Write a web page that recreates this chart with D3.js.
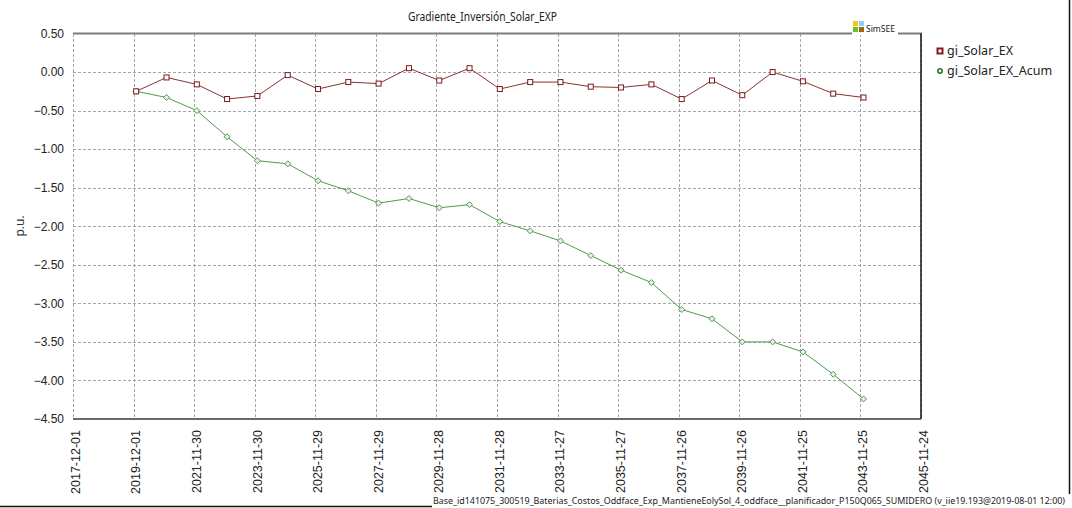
<!DOCTYPE html>
<html>
<head>
<meta charset="utf-8">
<script src="https://cdn.jsdelivr.net/npm/d3@7"></script>
<style>
  body { margin: 0; background: #fff; }
  svg { display: block; font-family: "Noto Sans", sans-serif; }
  .grid line { stroke: #a6a6a6; stroke-dasharray: 3,2; shape-rendering: crispEdges; }
  .axis text { fill: #222; }
</style>
</head>
<body>
<div id="chart"></div>
<script>
// data
const dates = [
  '2020-01-01', '2021-01-01', '2022-01-01', '2023-01-01', '2024-01-01',
  '2025-01-01', '2026-01-01', '2027-01-01', '2028-01-01', '2029-01-01',
  '2030-01-01', '2031-01-01', '2032-01-01', '2033-01-01', '2034-01-01',
  '2035-01-01', '2036-01-01', '2037-01-01', '2038-01-01', '2039-01-01',
  '2040-01-01', '2041-01-01', '2042-01-01', '2043-01-01', '2044-01-01'
]
const giSolarEx = [
  -0.25, -0.07, -0.16, -0.35, -0.31, -0.04, -0.22, -0.13, -0.15, 0.05,
  -0.11, 0.05, -0.22, -0.13, -0.13, -0.19, -0.20, -0.16, -0.35, -0.11,
  -0.30, 0.00, -0.12, -0.28, -0.33
]
const giSolarExAcum = [
  -0.25, -0.33, -0.50, -0.84, -1.15, -1.19, -1.41, -1.54, -1.70, -1.64,
  -1.76, -1.72, -1.94, -2.06, -2.19, -2.38, -2.57, -2.73, -3.08, -3.20,
  -3.50, -3.50, -3.63, -3.92, -4.24
]
const xTickLabels = [
  '2017-12-01', '2019-12-01', '2021-11-30', '2023-11-30', '2025-11-29',
  '2027-11-29', '2029-11-28', '2031-11-28', '2033-11-27', '2035-11-27',
  '2037-11-26', '2039-11-26', '2041-11-25', '2043-11-25', '2045-11-24'
]
const yTicks = [0.5, 0, -0.5, -1, -1.5, -2, -2.5, -3, -3.5, -4, -4.5]
const seriesNames = ['gi_Solar_EX', 'gi_Solar_EX_Acum']
const title = 'Gradiente_Inversión_Solar_EXP'
const caption = 'Base_id141075_300519_Baterias_Costos_Oddface_Exp_MantieneEolySol_4_oddface__planificador_P150Q065_SUMIDERO (v_iie19.193@2019-08-01 12:00)'

const width = 1072
const height = 508
const pLeft = 73, pRight = 921, pTop = 33.5, pBottom = 419

const parse = d3.timeParse('%Y-%m-%d')
const fmt = d3.timeFormat('%Y-%m-%d')
const tickDates = xTickLabels.map(parse)

const svg = d3.select('#chart')
  .append('svg')
  .attr('width', width)
  .attr('height', height)

const x = d3.scaleTime()
  .domain([tickDates[0], tickDates[tickDates.length - 1]])
  .range([pLeft, pRight])
const y = d3.scaleLinear()
  .domain([-4.5, 0.5])
  .range([pBottom, pTop])

// grid
const grid = svg.append('g').attr('class', 'grid')
grid.selectAll('.vg')
  .data(tickDates)
  .enter()
    .append('line')
    .attr('x1', d => Math.round(x(d)) + .5)
    .attr('x2', d => Math.round(x(d)) + .5)
    .attr('y1', pTop)
    .attr('y2', pBottom)
grid.selectAll('.hg')
  .data(yTicks.slice(1, -1))
  .enter()
    .append('line')
    .attr('x1', pLeft)
    .attr('x2', pRight)
    .attr('y1', d => Math.round(y(d)) + .5)
    .attr('y2', d => Math.round(y(d)) + .5)

// frame
svg.append('line')
  .attr('x1', pLeft).attr('x2', pRight + 1)
  .attr('y1', pTop).attr('y2', pTop)
  .attr('stroke', '#7c7c7c').attr('stroke-width', 2)
svg.append('line')
  .attr('x1', pRight).attr('x2', pRight)
  .attr('y1', pTop).attr('y2', pBottom)
  .attr('stroke', '#111').attr('stroke-width', 1.5)
svg.append('line')
  .attr('x1', pLeft).attr('x2', pRight)
  .attr('y1', pBottom).attr('y2', pBottom)
  .attr('stroke', '#3a3a3a').attr('stroke-width', 1.5)

// y axis labels
const yAxis = svg.append('g')
  .attr('class', 'axis')
  .attr('transform', `translate(${pLeft},0)`)
  .call(d3.axisLeft(y).tickValues(yTicks).tickSize(0).tickPadding(9).tickFormat(d3.format('.2f')))
yAxis.select('.domain').remove()
yAxis.selectAll('text').style('font-size', '12px')

// x axis labels
const xAxis = svg.append('g')
  .attr('class', 'axis')
  .attr('transform', `translate(0,${pBottom})`)
  .call(d3.axisBottom(x).tickValues(tickDates).tickSize(0).tickFormat(fmt))
xAxis.select('.domain').remove()
xAxis.selectAll('text')
  .style('font-size', '12.5px')
  .attr('text-anchor', 'end')
  .attr('transform', 'rotate(-90)')
  .attr('x', -11)
  .attr('y', 2)
  .attr('dy', '0.35em')

// axis title
svg.append('text')
  .attr('transform', 'translate(24,226) rotate(-90)')
  .attr('text-anchor', 'middle')
  .style('font-size', '12px')
  .attr('fill', '#333')
  .text('p.u.')

// title
svg.append('text')
  .attr('x', 408)
  .attr('y', 21)
  .attr('textLength', 149)
  .attr('lengthAdjust', 'spacingAndGlyphs')
  .style('font-size', '12px')
  .attr('fill', '#222')
  .text(title)

// SimSEE logo
const logo = svg.append('g')
logo.append('rect').attr('x', 852).attr('y', 18).attr('width', 46).attr('height', 17).attr('fill', '#fff')
const logoColors = [['#f5c518', '#8ecdf5'], ['#6cbf2a', '#9a6a10']]
logoColors.forEach((row, i) => row.forEach((c, j) => {
  logo.append('rect')
    .attr('x', 853 + j * 6).attr('y', 21 + i * 6)
    .attr('width', 5).attr('height', 5)
    .attr('fill', c)
}))
logo.append('text')
  .attr('x', 866).attr('y', 32)
  .style('font-size', '8.5px')
  .attr('fill', '#222')
  .text('SimSEE')

// series
const line = d3.line()
  .x((d, i) => x(parse(dates[i])))
  .y(d => y(d))

svg.append('path')
  .datum(giSolarExAcum)
  .attr('d', line)
  .attr('fill', 'none')
  .attr('stroke', '#4f9a4f')
  .attr('stroke-width', 1)
svg.append('path')
  .datum(giSolarEx)
  .attr('d', line)
  .attr('fill', 'none')
  .attr('stroke', '#853333')
  .attr('stroke-width', 1)

svg.selectAll('.ptAcum')
  .data(giSolarExAcum)
  .enter()
    .append('path')
    .attr('class', 'ptAcum')
    .attr('transform', (d, i) => `translate(${x(parse(dates[i]))},${y(d)})`)
    .attr('d', 'M0,-3L3,0L0,3L-3,0Z')
    .attr('fill', '#e6f2e6')
    .attr('stroke', '#4f9a4f')
    .attr('stroke-width', 1)

svg.selectAll('.ptEx')
  .data(giSolarEx)
  .enter()
    .append('rect')
    .attr('class', 'ptEx')
    .attr('x', (d, i) => x(parse(dates[i])) - 2.5)
    .attr('y', d => y(d) - 2.5)
    .attr('width', 5)
    .attr('height', 5)
    .attr('fill', '#fff')
    .attr('stroke', '#7a1c1c')
    .attr('stroke-width', 1)

// legend
const legend = svg.append('g')
legend.append('rect')
  .attr('x', 937.5).attr('y', 48.5).attr('width', 5).attr('height', 5)
  .attr('fill', '#fff').attr('stroke', '#8b1a1a').attr('stroke-width', 2)
legend.append('circle')
  .attr('cx', 940).attr('cy', 71).attr('r', 2.2)
  .attr('fill', '#fff').attr('stroke', '#1f7a1f').attr('stroke-width', 1.6)
legend.selectAll('.legText')
  .data(seriesNames)
  .enter()
    .append('text')
    .attr('x', 947)
    .attr('y', (d, i) => 51 + i * 20)
    .attr('dy', '0.35em')
    .style('font-size', '12.5px')
    .attr('fill', '#222')
    .text(d => d)

// outer lines and caption
svg.append('line')
  .attr('x1', 1069.5).attr('x2', 1069.5).attr('y1', 0).attr('y2', 494)
  .attr('stroke', '#111').attr('stroke-width', 1.5)
svg.append('line')
  .attr('x1', 0).attr('x2', 432).attr('y1', 506.5).attr('y2', 506.5)
  .attr('stroke', '#111').attr('stroke-width', 1.5)
svg.append('text')
  .attr('x', 433)
  .attr('y', 503.5)
  .attr('textLength', 632)
  .attr('lengthAdjust', 'spacingAndGlyphs')
  .style('font-size', '9px')
  .attr('fill', '#222')
  .text(caption)
</script>
</body>
</html>
